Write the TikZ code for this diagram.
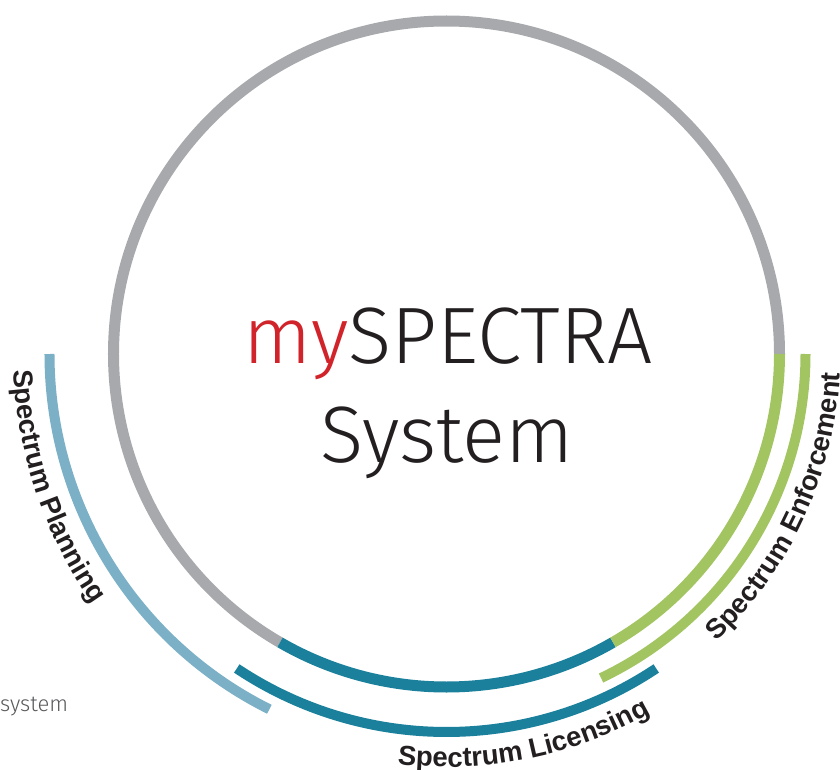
\documentclass[tikz,border=0pt]{standalone}
\usepackage{fontspec}
\setmainfont{Liberation Sans}
\newfontfamily\lightfont{Fira Sans}[UprightFont=* Light]
\usetikzlibrary{decorations.text}
\definecolor{cgray}{HTML}{A7A9AC}
\definecolor{cteal}{HTML}{1A809B}
\definecolor{cgreen}{HTML}{A2C562}
\definecolor{cblue}{HTML}{7BB0C6}
\definecolor{cred}{HTML}{D1232A}
\definecolor{ctext}{HTML}{231F20}
\definecolor{csys}{HTML}{58595B}
\newcommand\labfont{\fontsize{27.5}{32}\selectfont\bfseries\color{ctext}}
\begin{document}
\begin{tikzpicture}[x=1pt,y=1pt,
  ring/.style={line width=11pt},
  band/.style={line width=10pt},
  bigtext/.style={anchor=base,inner sep=0pt,text=ctext,font=\lightfont\fontsize{80}{96}\selectfont}]
\useasboundingbox (-446.5pt,-415pt) rectangle (393.5pt,354pt);
% main ring
\draw[ring,cgray] (0:333pt) arc[start angle=0,end angle=240,radius=333pt];
\draw[ring,cteal] (240:333pt) arc[start angle=240,end angle=300,radius=333pt];
\draw[ring,cgreen] (300:333pt) arc[start angle=300,end angle=360,radius=333pt];
% outer bands
\draw[band,cgreen] (0:359pt) arc[start angle=0,end angle=-64.5,radius=359pt];
\draw[band,cteal] (-123.7:378pt) arc[start angle=-123.7,end angle=-56.3,radius=378pt];
\draw[band,cblue] (180:397pt) arc[start angle=180,end angle=243.5,radius=397pt];
% curved labels
\path[decorate,decoration={text along path,text={|\labfont|Spectrum Planning},text align=center}]
  (168.7:433pt) arc[start angle=168.7,end angle=228.7,radius=433pt];
\path[decorate,decoration={text along path,text={|\labfont|Spectrum Licensing},text align=center}]
  (-108.6:413pt) arc[start angle=-108.6,end angle=-48.6,radius=413pt];
\path[decorate,decoration={text along path,text={|\labfont|Spectrum Enforcement},text align=center}]
  (-54.8:394pt) arc[start angle=-54.8,end angle=5.2,radius=394pt];
% central title
\node[bigtext] (title) at (1.5pt,-9pt) {\textcolor{cred}{my}SPECTRA};
\node[bigtext] (sys) at (0.5pt,-108pt) {System};
\node[anchor=base west,inner sep=0pt,text=csys,font=\lightfont\fontsize{22}{26}\selectfont] (frag) at (-446.5pt,-357pt) {system};
\end{tikzpicture}
\end{document}
